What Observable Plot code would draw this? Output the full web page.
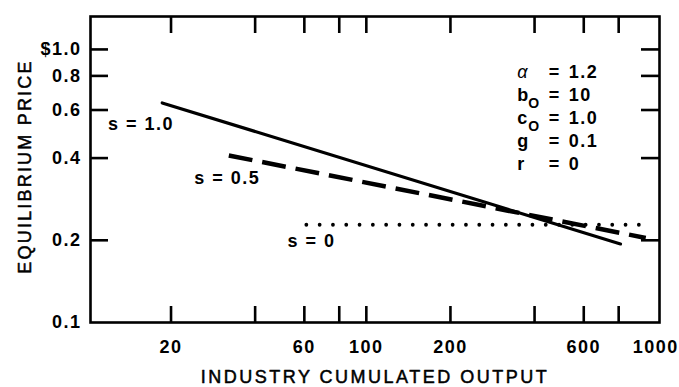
<!DOCTYPE html>
<html><head><meta charset="utf-8">
<script src="https://cdn.jsdelivr.net/npm/d3@7"></script>
<script src="https://cdn.jsdelivr.net/npm/@observablehq/plot@0.6"></script>
<style>
html,body{margin:0;padding:0;background:#fff;}
</style></head><body><div id="chart"></div>
<script>
// ---- data ----
const xDomain = [10.3, 1120];
const yDomain = [0.1, 1.32];
const xTicks = [20, 40, 60, 80, 100, 200, 400, 600, 800];
const xTickLabels = [20, 60, 100, 200, 600];
const xEdgeLabel = [1000];
const yTicks = [0.2, 0.4, 0.6, 0.8, 1.0];
const yTickLabels = [0.1, 0.2, 0.4, 0.6, 0.8, 1.0];
const seriesNames = ["s = 1.0", "s = 0.5", "s = 0"];
const outputStart = [18.6, 32.2, 61];
const outputEnd = [812, 1000, 1015];
const priceStart = [0.637, 0.409, 0.228];
const priceEnd = [0.194, 0.204, 0.228];
const labelOutput = [11.9, 24.2, 52.2];
const labelPrice = [0.531, 0.337, 0.198];
const paramSymbols = ["α", "b", "c", "g", "r"];
const paramSubs = ["", "O", "O", "", ""];
const paramValues = ["1.2", "10", "1.0", "0.1", "0"];
const paramAnchor = {symbol: 347, equals: 450, value: 530, price: 0.5675};
const xTitle = "INDUSTRY CUMULATED OUTPUT";
const yTitle = "EQUILIBRIUM PRICE";

// ---- layout ----
const W = 679, H = 387;
const mL = 90, mR = 20, mT = 16, mB = 65;
const frameW = W - mL - mR, frameH = H - mT - mB;
const font = "'Liberation Sans', Arial, Helvetica, sans-serif";

const rows = seriesNames.flatMap((s, i) => [
  {s, x: outputStart[i], y: priceStart[i]},
  {s, x: outputEnd[i], y: priceEnd[i]}
]);
const labels = seriesNames.map((s, i) => ({s, x: labelOutput[i], y: labelPrice[i]}));

const greekText = paramSymbols.map((s, i) => i === 0 ? s : "").join("\n");
const latinText = paramSymbols.map((s, i) => i === 0 ? "" : s).join("\n");
const subText = paramSubs.join("\n");
const eqText = paramSymbols.map(() => "=").join("\n");
const valText = paramValues.join("\n");
const lh = 23;

const chart = Plot.plot({
  width: W, height: H,
  marginLeft: mL, marginRight: mR, marginTop: mT, marginBottom: mB,
  x: {type: "log", domain: xDomain, label: null, axis: null},
  y: {type: "log", domain: yDomain, label: null, axis: null},
  style: {fontFamily: font, fontSize: "18px", fontWeight: "bold", color: "#000", background: "#fff", letterSpacing: "1.5px"},
  marks: [
    Plot.frame({stroke: "#000", strokeWidth: 2.6}),
    // inward ticks on four sides
    Plot.ruleX(xTicks, {insetTop: frameH - 16, stroke: "#000", strokeWidth: 2.6}),
    Plot.ruleX(xTicks, {insetBottom: frameH - 17, stroke: "#000", strokeWidth: 2.6}),
    Plot.ruleY(yTicks, {insetRight: frameW - 18, stroke: "#000", strokeWidth: 2.6}),
    Plot.ruleY(yTicks, {insetLeft: frameW - 18, stroke: "#000", strokeWidth: 2.6}),
    // tick labels
    Plot.text(xTickLabels, {x: d => d, frameAnchor: "bottom", lineAnchor: "top", textAnchor: "middle", dy: 18, text: d => String(d), fontSize: 18, fontWeight: "bold"}),
    Plot.text(xEdgeLabel, {x: d => d, frameAnchor: "bottom", lineAnchor: "top", textAnchor: "middle", dy: 18, dx: 10, text: d => String(d), fontSize: 18, fontWeight: "bold"}),
    Plot.text(yTickLabels, {y: d => d, frameAnchor: "left", lineAnchor: "middle", textAnchor: "end", dx: -9, text: d => d === 1 ? "$1.0" : d.toFixed(1), fontSize: 18, fontWeight: "bold"}),
    // axis titles
    Plot.text([xTitle], {frameAnchor: "bottom", dy: 55, lineAnchor: "middle", textAnchor: "middle", fontSize: 18, fontWeight: "normal", fill: "#000", stroke: "#000", strokeWidth: 0.5, text: d => d}),
    Plot.text([yTitle], {frameAnchor: "left", dx: -65, dy: -3, rotate: -90, lineAnchor: "middle", textAnchor: "middle", fontSize: 18, fontWeight: "normal", fill: "#000", stroke: "#000", strokeWidth: 0.5, text: d => d}),
    // series lines
    Plot.line(rows.filter(d => d.s === seriesNames[0]), {x: "x", y: "y", stroke: "#000", strokeWidth: 3.2}),
    Plot.line(rows.filter(d => d.s === seriesNames[1]), {x: "x", y: "y", stroke: "#000", strokeWidth: 4.5, strokeDasharray: "24,10", strokeLinecap: "butt"}),
    Plot.line(rows.filter(d => d.s === seriesNames[2]), {x: "x", y: "y", stroke: "#000", strokeWidth: 3.8, strokeDasharray: "0,13.3", strokeLinecap: "round"}),
    // series labels
    Plot.text(labels, {x: "x", y: "y", text: "s", textAnchor: "start", lineAnchor: "middle", fontSize: 18, fontWeight: "bold"}),
    // parameter block
    Plot.text([greekText], {x: () => paramAnchor.symbol, y: () => paramAnchor.price, text: d => d, textAnchor: "start", lineAnchor: "middle", lineHeight: lh / 18, fontSize: 18, fontWeight: "normal", fontStyle: "italic"}),
    Plot.text([latinText], {x: () => paramAnchor.symbol, y: () => paramAnchor.price, text: d => d, textAnchor: "start", lineAnchor: "middle", lineHeight: lh / 18, fontSize: 18, fontWeight: "bold"}),
    Plot.text([subText], {x: () => paramAnchor.symbol, y: () => paramAnchor.price, dx: 11, dy: 7, text: d => d, textAnchor: "start", lineAnchor: "middle", lineHeight: lh / 14, fontSize: 14, fontWeight: "bold"}),
    Plot.text([eqText], {x: () => paramAnchor.equals, y: () => paramAnchor.price, text: d => d, textAnchor: "start", lineAnchor: "middle", lineHeight: lh / 18, fontSize: 18, fontWeight: "bold"}),
    Plot.text([valText], {x: () => paramAnchor.value, y: () => paramAnchor.price, text: d => d, textAnchor: "start", lineAnchor: "middle", lineHeight: lh / 18, fontSize: 18, fontWeight: "bold"})
  ]
});
// wider tracking for the two axis titles
d3.select(chart).selectAll("text").each(function () {
  const t = this.textContent;
  if (t === xTitle) this.style.letterSpacing = "2.5px";
  else if (t === yTitle) this.style.letterSpacing = "2.2px";
});
document.getElementById("chart").appendChild(chart);
</script>
</body></html>
